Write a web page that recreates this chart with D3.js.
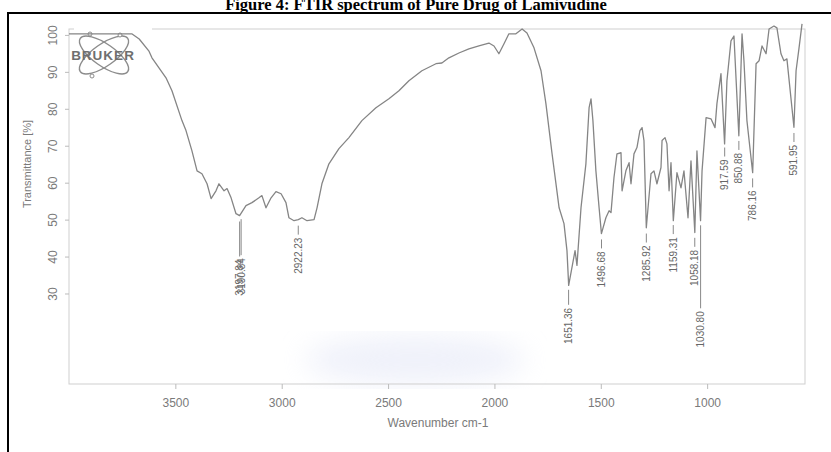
<!DOCTYPE html>
<html>
<head>
<meta charset="utf-8">
<script src="https://cdn.jsdelivr.net/npm/d3@7"></script>
<style>
  body { margin: 0; background: #fff; }
  svg { display: block; }
</style>
</head>
<body>
<script>
// spectrum (wavenumber cm-1, transmittance %)
const wavenumbers = [4000, 3860, 3705, 3670, 3625, 3610, 3577, 3544, 3516, 3469,
    3450, 3422, 3398, 3375, 3351, 3332, 3309, 3295, 3271, 3257,
    3238, 3215, 3198, 3168, 3140, 3107, 3093, 3074, 3050, 3027,
    3003, 2980, 2966, 2942, 2922, 2905, 2881, 2848, 2834, 2811,
    2778, 2731, 2684, 2623, 2557, 2496, 2449, 2402, 2341, 2275,
    2247, 2214, 2167, 2120, 2073, 2026, 2002, 1979, 1955, 1932,
    1899, 1870, 1847, 1814, 1781, 1758, 1729, 1696, 1673, 1659,
    1651, 1621, 1612, 1593, 1570, 1555, 1546, 1537, 1523, 1508,
    1497, 1476, 1461, 1452, 1438, 1424, 1405, 1400, 1382, 1367,
    1358, 1344, 1330, 1316, 1306, 1297, 1286, 1264, 1250, 1236,
    1217, 1212, 1198, 1189, 1179, 1170, 1159, 1142, 1123, 1109,
    1090, 1076, 1058, 1048, 1031, 1024, 1005, 982, 963, 954,
    935, 918, 907, 888, 874, 851, 836, 827, 813, 786,
    770, 756, 742, 723, 709, 686, 672, 653, 639, 625,
    592, 582, 568, 554];

const transmittance = [100.3, 100.3, 100.3, 98.9, 95.7, 93.8, 91.1, 88.4, 84.9, 76.8,
    74.1, 68.6, 63.2, 62.4, 59.7, 55.7, 57.8, 59.7, 57.8, 58.4,
    55.9, 51.6, 51.1, 53.8, 54.6, 55.9, 56.5, 53.2, 55.9, 57.6,
    57.0, 54.6, 50.5, 49.7, 50.0, 50.5, 49.7, 50.0, 53.2, 59.7,
    65.1, 69.2, 72.2, 76.8, 80.3, 82.7, 84.9, 87.6, 90.3, 92.2,
    92.4, 93.8, 95.1, 96.2, 97.0, 97.8, 97.0, 94.9, 97.6, 100.3,
    100.3, 101.6, 100.5, 96.5, 90.3, 81.4, 67.8, 53.2, 48.9, 41.6,
    32.2, 41.6, 37.6, 53.2, 65.1, 80.3, 82.7, 76.8, 63.2, 53.2,
    46.2, 50.5, 52.4, 51.9, 61.4, 67.8, 68.1, 57.8, 63.2, 65.4,
    59.7, 67.8, 69.5, 74.1, 74.9, 71.4, 47.8, 62.4, 63.2, 59.7,
    64.1, 71.4, 72.2, 70.5, 57.8, 65.4, 49.7, 62.7, 58.6, 63.2,
    50.5, 65.9, 46.5, 68.6, 49.7, 63.2, 77.6, 77.3, 74.9, 81.4,
    89.5, 70.5, 87.6, 98.4, 99.7, 72.7, 100.3, 93.0, 76.8, 62.7,
    92.2, 93.0, 97.0, 94.9, 101.6, 102.4, 101.9, 94.9, 93.0, 93.5,
    75.0, 90.3, 96.5, 103.0];

// peak picks printed on the spectrum
const peakWavenumbers = [3197.84, 3190.84, 2922.23, 1651.36, 1496.68, 1285.92, 1159.31, 1058.18, 1030.80, 917.59, 850.88, 786.16, 591.95];
const peakLabels = ["3197.84", "3190.84", "2922.23", "1651.36", "1496.68", "1285.92", "1159.31", "1058.18", "1030.80", "917.59", "850.88", "786.16", "591.95"];

const xTicks = [3500, 3000, 2500, 2000, 1500, 1000];
const yTicks = [30, 40, 50, 60, 70, 80, 90, 100];

const titleText = "Figure 4: FTIR spectrum of Pure Drug of Lamivudine";
const xTitle = "Wavenumber cm-1";
const yTitle = "Transmittance [%]";

const width = 831, height = 452;
const plot = { left: 69, right: 805, top: 29, bottom: 384 };
const grey = "#7a7a7a";

// labels that were pushed further down to avoid overlaps
const extraDrop = { "3197.84": 26, "3190.84": 27, "1651.36": 6, "1030.80": 74 };

const svg = d3.select("body").append("svg")
    .attr("width", width)
    .attr("height", height);

const defs = svg.append("defs");
defs.append("filter").attr("id", "blur")
    .append("feGaussianBlur").attr("stdDeviation", 14);

svg.append("rect").attr("width", width).attr("height", height).attr("fill", "#fff");

// faint smudge from the scan
svg.append("ellipse")
    .attr("cx", 415).attr("cy", 360).attr("rx", 110).attr("ry", 24)
    .attr("fill", "#dfe3f5").attr("opacity", 0.5)
    .attr("filter", "url(#blur)");

// page title, cut at the top
svg.append("text")
    .attr("x", 416).attr("y", 10)
    .attr("text-anchor", "middle")
    .style("font-family", "'Liberation Serif', 'Times New Roman', serif")
    .style("font-weight", "bold")
    .style("font-size", "16.5px")
    .text(titleText);

// black outer frame
svg.append("path")
    .attr("d", `M8,${height} V13 H${width}`)
    .attr("fill", "none")
    .attr("stroke", "#000")
    .attr("stroke-width", 2);

const x = d3.scaleLinear().domain([4000, 540]).range([plot.left, plot.right]);
const y = d3.scaleLinear().domain([5.5, 101.6]).range([plot.bottom, plot.top]);

// plot box
svg.append("rect")
    .attr("x", plot.left).attr("y", plot.top)
    .attr("width", plot.right - plot.left).attr("height", plot.bottom - plot.top)
    .attr("fill", "none").attr("stroke", "#cfcfcf").attr("stroke-width", 1);

// x axis
const xAxis = svg.append("g")
    .attr("transform", `translate(0,${plot.bottom})`)
    .call(d3.axisBottom(x).tickValues(xTicks).tickSize(5).tickPadding(9).tickFormat(d3.format("d")));
xAxis.select(".domain").remove();
xAxis.selectAll("line").attr("stroke", "#bbb");
xAxis.selectAll("text")
    .attr("fill", grey)
    .style("font-family", "'Liberation Sans', Arial, sans-serif")
    .style("font-size", "12px");

svg.append("text")
    .attr("x", 438).attr("y", 427)
    .attr("text-anchor", "middle")
    .attr("fill", grey)
    .style("font-family", "'Liberation Sans', Arial, sans-serif")
    .style("font-size", "12px")
    .text(xTitle);

// y axis, labels rotated like the OPUS print
const yAxis = svg.append("g")
    .attr("transform", `translate(${plot.left},0)`)
    .call(d3.axisLeft(y).tickValues(yTicks).tickSize(4).tickFormat(d3.format("d")));
yAxis.select(".domain").remove();
yAxis.selectAll("line").attr("stroke", "#bbb");
yAxis.selectAll("text")
    .attr("x", null).attr("dy", null)
    .attr("text-anchor", "middle")
    .attr("transform", "translate(-12,0) rotate(-90)")
    .attr("fill", grey)
    .style("font-family", "'Liberation Sans', Arial, sans-serif")
    .style("font-size", "12px");

svg.append("text")
    .attr("transform", "translate(31,164) rotate(-90)")
    .attr("text-anchor", "middle")
    .attr("fill", grey)
    .style("font-family", "'Liberation Sans', Arial, sans-serif")
    .style("font-size", "11px")
    .text(yTitle);

// Bruker logo
const logo = svg.append("g").attr("transform", "translate(104,55)");
logo.append("rect").attr("x", -30).attr("y", -27).attr("width", 78).attr("height", 52).attr("fill", "#fff");
[35, -35].forEach(a => {
    logo.append("ellipse")
        .attr("rx", 29).attr("ry", 11)
        .attr("transform", `rotate(${a})`)
        .attr("fill", "none").attr("stroke", "#8c8c8c").attr("stroke-width", 1.4);
});
[[-14, -21], [16, -20], [-12, 21]].forEach(p => {
    logo.append("circle").attr("cx", p[0]).attr("cy", p[1]).attr("r", 2)
        .attr("fill", "#fff").attr("stroke", "#8c8c8c");
});
logo.append("text")
    .attr("x", -1).attr("y", 5)
    .attr("text-anchor", "middle")
    .attr("fill", "#6f6f6f")
    .style("font-family", "'Liberation Sans', Arial, sans-serif")
    .style("font-weight", "bold")
    .style("font-size", "13.5px")
    .style("letter-spacing", "1px")
    .text("BRUKER");

// spectrum
const spectrum = wavenumbers.map((w, i) => ({ w: w, t: transmittance[i] }));
const line = d3.line().x(d => x(d.w)).y(d => y(d.t));

svg.append("path")
    .datum(spectrum)
    .attr("fill", "none")
    .attr("stroke", "#858585")
    .attr("stroke-width", 1.3)
    .attr("stroke-linejoin", "round")
    .attr("d", line);

// transmittance at any wavenumber, to hang the peak labels under the curve
const tAt = function (w) {
    for (let i = 0; i < spectrum.length - 1; i++) {
        const a = spectrum[i], b = spectrum[i + 1];
        if (w <= a.w && w >= b.w) {
            return a.t + (b.t - a.t) * (a.w - w) / (a.w - b.w);
        }
    }
    return spectrum[spectrum.length - 1].t;
};

const peaks = svg.append("g")
    .selectAll("g")
    .data(peakWavenumbers.map((w, i) => ({ w: w, label: peakLabels[i] })))
    .enter()
    .append("g")
    .attr("transform", d => `translate(${x(d.w)},${y(tAt(d.w))})`);

peaks.append("line")
    .attr("x1", 0).attr("x2", 0)
    .attr("y1", 6)
    .attr("y2", d => 15 + (extraDrop[d.label] || 0))
    .attr("stroke", "#888");

peaks.append("text")
    .attr("transform", d => `translate(3.5,${18 + (extraDrop[d.label] || 0)}) rotate(-90)`)
    .attr("text-anchor", "end")
    .attr("fill", "#666")
    .style("font-family", "'Liberation Sans', Arial, sans-serif")
    .style("font-size", "10px")
    .text(d => d.label);
</script>
</body>
</html>
